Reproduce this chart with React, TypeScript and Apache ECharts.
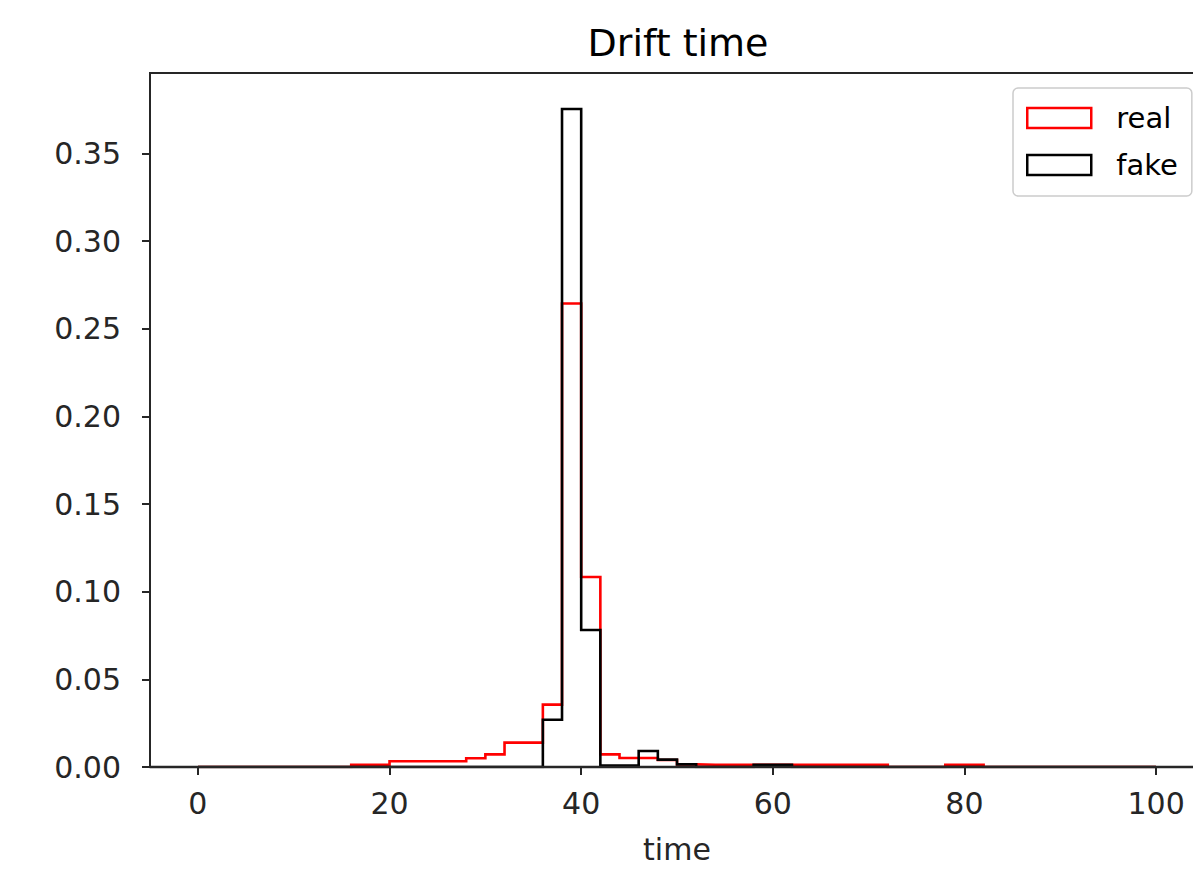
import React, { useEffect, useRef } from "react";
import * as echarts from "echarts";

// Histogram bins: start 0, width 2, 50 bins (0..100)
const binStart = 0;
const binWidth = 2;

// density per bin
const realDensity = [
  0, 0, 0, 0, 0, 0, 0, 0,
  0.0013, 0.0013,
  0.0033, 0.0033, 0.0033, 0.0033,
  0.005, 0.0072, 0.0139, 0.0139,
  0.0356, 0.2645, 0.1084,
  0.0072, 0.0051, 0.0051, 0.004, 0.0015,
  0.0013, 0.0013, 0.0013, 0.0013, 0.0013,
  0.0013, 0.0013, 0.0013, 0.0013, 0.0013,
  0, 0, 0,
  0.0013, 0.0013,
  0, 0, 0, 0, 0, 0, 0, 0, 0,
];

const fakeDensity = [
  0, 0, 0, 0, 0, 0, 0, 0, 0, 0,
  0, 0, 0, 0, 0, 0, 0, 0,
  0.027, 0.3755, 0.0782,
  0.0008, 0.0008, 0.0091, 0.0042, 0.0015,
  0, 0, 0,
  0.0013, 0.0013,
  0, 0, 0, 0, 0, 0, 0, 0, 0,
  0, 0, 0, 0, 0, 0, 0, 0, 0, 0,
];

const seriesNames = ["real", "fake"];
const xTicks = [0, 20, 40, 60, 80, 100];
const yTicks = [0, 0.05, 0.1, 0.15, 0.2, 0.25, 0.3, 0.35];
const xRange = [-5, 105];
const yRange = [0, 0.396];

function stepPoints(values: number[]): [number, number][] {
  const pts: [number, number][] = [[binStart, 0]];
  values.forEach((v, i) => {
    const left = binStart + i * binWidth;
    pts.push([left, v], [left + binWidth, v]);
  });
  pts.push([binStart + values.length * binWidth, 0]);
  return pts;
}

const FONT = "DejaVu Sans";
const INK = "#262626";

export default function App() {
  const ref = useRef<HTMLDivElement>(null);
  useEffect(() => {
    if (!ref.current) return;
    const chart = echarts.init(ref.current, undefined, { renderer: "svg" });
    chart.setOption({
      animation: false,
      backgroundColor: "#ffffff",
      textStyle: { fontFamily: FONT },
      title: {
        text: "Drift time",
        left: 673,
        top: 19,
        textAlign: "center",
        textStyle: { fontSize: 38, fontWeight: "normal", color: "#000", fontFamily: FONT },
      },
      grid: {
        left: 150,
        top: 73,
        width: 1054,
        height: 694,
        show: true,
        borderColor: INK,
        borderWidth: 2,
        backgroundColor: "transparent",
      },
      legend: {
        orient: "vertical",
        left: 1013,
        top: 88,
        padding: [15, 14, 16, 13],
        itemWidth: 64,
        itemHeight: 20,
        itemGap: 17,
        backgroundColor: "#fff",
        borderColor: "#cccccc",
        borderWidth: 1.5,
        borderRadius: 5,
        textStyle: { fontSize: 29, color: "#000", fontFamily: FONT, lineHeight: 30, padding: [0, 0, 0, 20] },
        data: [
          { name: seriesNames[0], icon: "rect", itemStyle: { color: "#fff", borderColor: "#ff0000", borderWidth: 2.5 } },
          { name: seriesNames[1], icon: "rect", itemStyle: { color: "#fff", borderColor: "#000000", borderWidth: 2.5 } },
        ],
      },
      xAxis: {
        type: "value",
        min: xRange[0],
        max: xRange[1],
        z: 10,
        name: "time",
        nameLocation: "middle",
        nameGap: 67,
        nameTextStyle: { fontSize: 30, color: INK, fontFamily: FONT },
        axisLine: { show: true, onZero: false, lineStyle: { color: INK, width: 2.4 } },
        axisTick: { show: true, length: 8, customValues: xTicks, lineStyle: { color: INK, width: 2 } },
        axisLabel: { customValues: xTicks, fontSize: 30, color: INK, margin: 21, fontFamily: FONT },
        splitLine: { show: false },
      },
      yAxis: {
        type: "value",
        min: yRange[0],
        max: yRange[1],
        z: 10,
        axisLine: { show: true, onZero: false, lineStyle: { color: INK, width: 2 } },
        axisTick: { show: true, length: 8, customValues: yTicks, lineStyle: { color: INK, width: 2 } },
        axisLabel: {
          customValues: yTicks,
          fontSize: 30,
          color: INK,
          margin: 29,
          fontFamily: FONT,
          formatter: (v: number) => v.toFixed(2),
        },
        splitLine: { show: false },
      },
      series: [
        {
          name: seriesNames[0],
          type: "line",
          data: stepPoints(realDensity),
          showSymbol: false,
          symbol: "none",
          z: 2,
          color: "#ff0000",
          lineStyle: { color: "#ff0000", width: 2.6, join: "miter", cap: "butt" },
        },
        {
          name: seriesNames[1],
          type: "line",
          data: stepPoints(fakeDensity),
          showSymbol: false,
          symbol: "none",
          z: 3,
          color: "#000000",
          lineStyle: { color: "#000000", width: 2.6, join: "miter", cap: "butt" },
        },
      ],
    });
    return () => chart.dispose();
  }, []);
  return (
    <div
      style={{ position: "absolute", left: 0, top: 0, width: 1193, height: 870, overflow: "hidden", background: "#fff" }}
    >
      <div ref={ref} style={{ width: 1220, height: 870 }} />
    </div>
  );
}
